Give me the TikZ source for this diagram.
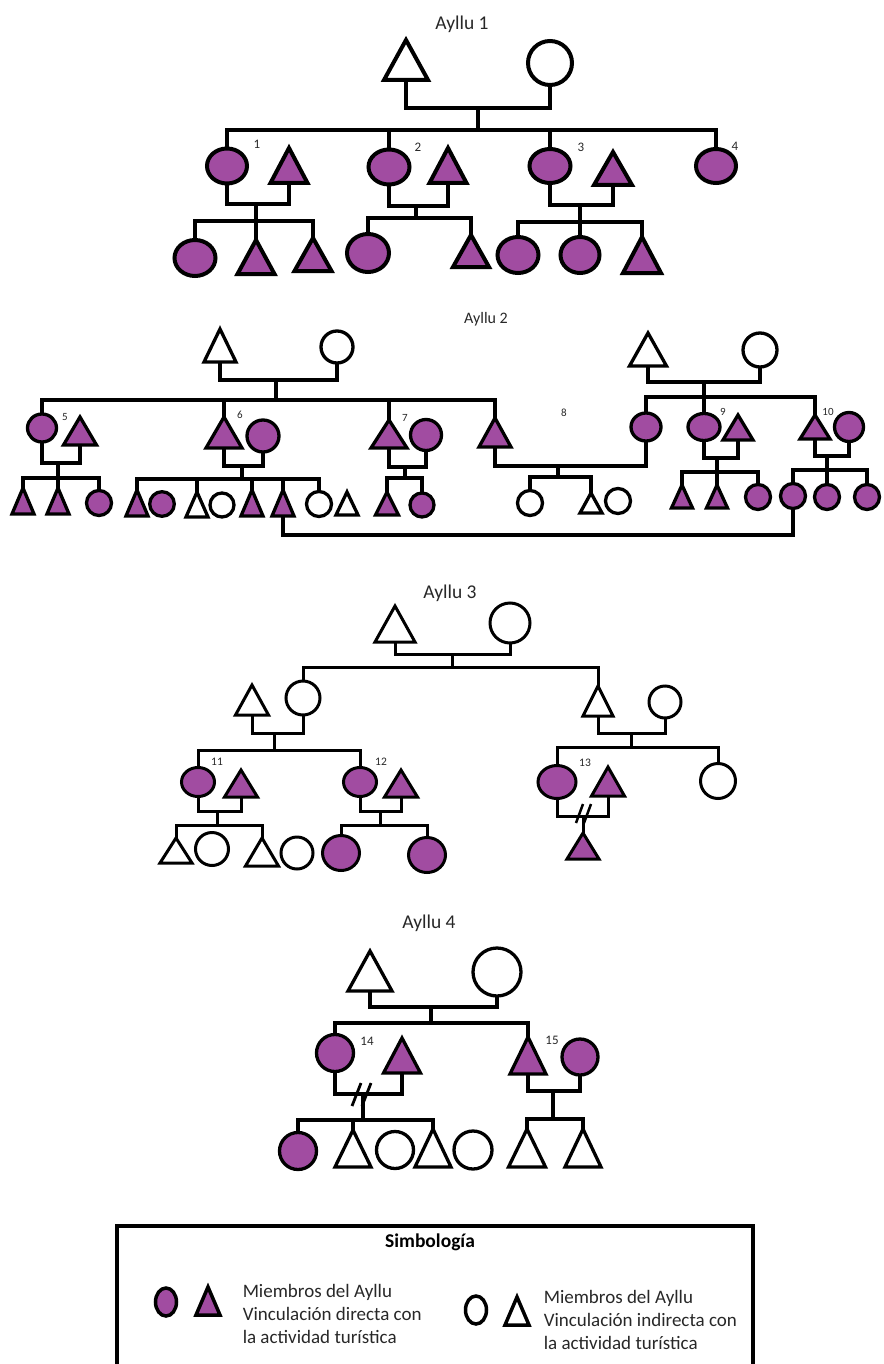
\documentclass[tikz,border=0pt]{standalone}
\usepackage{fontspec}
\setmainfont{Carlito}
\usetikzlibrary{shapes.geometric}
\definecolor{pur}{RGB}{161,76,161}
\definecolor{txt}{RGB}{40,40,40}
\tikzset{
  pc/.style={ellipse, draw=black, fill=pur, inner sep=0pt, outer sep=0pt},
  wc/.style={ellipse, draw=black, fill=white, inner sep=0pt, outer sep=0pt},
  ttl/.style={font=\fontsize{19.5}{22}\selectfont, text=txt, inner sep=0pt},
  numA/.style={font=\fontsize{13}{15}\selectfont, text=txt, inner sep=0pt},
  numB/.style={font=\fontsize{11}{12}\selectfont, text=txt, inner sep=0pt},
  numC/.style={font=\fontsize{11.5}{13}\selectfont, text=txt, inner sep=0pt},
  legtxt/.style={font=\fontsize{19}{23}\selectfont, text=txt, align=left, inner sep=0pt, anchor=west},
}
\newcommand\Ptri[6]{% name, fill, cx, apex y, base y, width
  \filldraw[fill=#2, draw=black, line join=miter] ({#3-#6/2},#5) -- (#3,#4) -- ({#3+#6/2},#5) -- cycle;
  \coordinate (#1) at (#3,#5);
  \coordinate (#1t) at (#3,#4);}
\newcommand\Pcirc[6]{% name, style, cx, cy, rx, ry
  \node[#2, minimum width={2*#5}, minimum height={2*#6}] (#1) at (#3,#4) {};}
\begin{document}
\begin{tikzpicture}[x=1pt,y=-1pt]
\useasboundingbox (0,0) rectangle (883,1364);
\fill[white] (0,0) rectangle (883,1364);

% ================= AYLLU 1 =================
\begin{scope}[line width=4pt]
\node[ttl] (T1) at (462,24) {Ayllu 1};
\Ptri{A1f}{white}{406}{40}{80}{44}
\Pcirc{A1m}{wc}{550}{63}{22}{22}
\coordinate (A1cm) at (478,108);
\coordinate (A1sm) at (478,130);
\Pcirc{A1c1}{pc}{227}{166}{20}{17.5}
\Ptri{A1t1}{pur}{289}{148}{183}{37}
\Pcirc{A1c2}{pc}{389}{167}{20.5}{17.5}
\Ptri{A1t2}{pur}{448}{148}{183}{37}
\Pcirc{A1c3}{pc}{550}{166}{20.5}{17}
\Ptri{A1t3}{pur}{613}{152}{185}{38}
\Pcirc{A1c4}{pc}{716}{166}{20}{17}
\node[numA] (L1) at (257,144) {1};
\node[numA] (L2) at (418,147) {2};
\node[numA] (L3) at (581,147) {3};
\node[numA] (L4) at (735,146) {4};
\draw (A1f) |- (A1cm) -| (A1m.south);
\draw (A1cm) -- (A1sm);
\draw (A1c1.north) |- (A1sm) -| (A1c4.north);
\draw (A1c2.north) -- (A1c2.north |- A1sm);
\draw (A1c3.north) -- (A1c3.north |- A1sm);
% couple 1
\coordinate (A1m1) at (256,204);
\coordinate (A1k1) at (256,221);
\Pcirc{A1g1}{pc}{195}{258}{20.5}{18}
\Ptri{A1g2}{pur}{256}{240}{274}{37}
\Ptri{A1g3}{pur}{313}{238}{271}{37}
\draw (A1c1.south) |- (A1m1) -| (A1t1);
\draw (A1m1) -- (A1k1);
\draw (A1g1.north) |- (A1k1) -| (A1g3t);
\draw (A1k1) -- (A1g2t);
% couple 2
\coordinate (A1m2) at (416,206);
\coordinate (A1k2) at (416,218);
\Pcirc{A1g4}{pc}{368}{253}{21}{19}
\Ptri{A1g5}{pur}{471}{235}{267}{36}
\draw (A1c2.south) |- (A1m2) -| (A1t2);
\draw (A1m2) -- (A1k2);
\draw (A1g4.north) |- (A1k2) -| (A1g5t);
% couple 3
\coordinate (A1m3) at (580,205);
\coordinate (A1k3) at (580,222);
\Pcirc{A1g6}{pc}{518}{255}{20.5}{18}
\Pcirc{A1g7}{pc}{580}{255}{19.5}{18}
\Ptri{A1g8}{pur}{642}{237}{273}{38}
\draw (A1c3.south) |- (A1m3) -| (A1t3);
\draw (A1m3) -- (A1k3);
\draw (A1g6.north) |- (A1k3) -| (A1g8t);
\draw (A1k3) -- (A1g7.north);
\end{scope}

% ================= AYLLU 2 =================
\begin{scope}[line width=3.3pt]
\node[ttl, font=\fontsize{16}{19}\selectfont] (T2) at (486,319) {Ayllu 2};
\Ptri{A2f}{white}{220}{329}{362}{32}
\Pcirc{A2m}{wc}{337}{347}{16}{16}
\coordinate (A2cm) at (276,380);
\coordinate (A2sm) at (276,400);
\Pcirc{A2c5}{pc}{42}{428}{14.5}{14}
\Ptri{A2t5}{pur}{80}{417}{445}{33}
\Ptri{A2t6}{pur}{224}{417}{448}{36}
\Pcirc{A2c6}{pc}{263}{436}{16}{16}
\Ptri{A2t7}{pur}{389}{420}{448}{36}
\Pcirc{A2c7}{pc}{426}{435}{15.5}{15.5}
\Ptri{A2t8}{pur}{495}{418}{447}{32}
\Pcirc{A2c8}{pc}{646}{427}{15}{14}
\node[numB] (L5) at (65,417) {5};
\node[numB] (L6) at (240,415) {6};
\node[numB] (L7) at (405,418) {7};
\node[numB] (L8) at (564,413) {8};
\draw (A2f) |- (A2cm) -| (A2m.south);
\draw (A2cm) -- (A2sm);
\draw (A2c5.north) |- (A2sm) -| (A2t8t);
\draw (A2t6t) -- (A2t6t |- A2sm);
\draw (A2t7t) -- (A2t7t |- A2sm);
% couple 5
\coordinate (A2m5) at (58,463);
\coordinate (A2k5) at (58,478);
\Ptri{A2g1}{pur}{23}{488}{514}{22}
\Ptri{A2g2}{pur}{58}{488}{514}{22}
\Pcirc{A2g3}{pc}{99}{503}{12.5}{12.5}
\draw (A2c5.south) |- (A2m5) -| (A2t5);
\draw (A2m5) -- (A2k5);
\draw (A2g1t) |- (A2k5) -| (A2g3.north);
\draw (A2k5) -- (A2g2t);
% couple 6
\coordinate (A2m6) at (242,466);
\coordinate (A2k6) at (242,479);
\Ptri{A2h1}{pur}{137}{490}{516}{22}
\Pcirc{A2h2}{pc}{162}{504}{12.3}{12.3}
\Ptri{A2h3}{white}{197}{492}{517}{22}
\Pcirc{A2h4}{wc}{222}{505}{12}{12}
\Ptri{A2h5}{pur}{252}{490}{516}{22}
\Ptri{A2h6}{pur}{283}{490}{516}{22}
\Pcirc{A2h7}{wc}{319}{504}{12.5}{12.5}
\Ptri{A2h8}{white}{347}{492}{515}{22}
\draw (A2t6) |- (A2m6) -| (A2c6.south);
\draw (A2m6) -- (A2k6);
\draw (A2h1t) |- (A2k6) -| (A2h7.north);
\draw (A2h3t) -- (A2h3t |- A2k6);
\draw (A2h5t) -- (A2h5t |- A2k6);
\draw (A2h6t) -- (A2h6t |- A2k6);
% couple 7
\coordinate (A2m7) at (405,467);
\coordinate (A2k7) at (405,478);
\Ptri{A2i1}{pur}{387}{492}{515}{23}
\Pcirc{A2i2}{pc}{422}{505}{12}{12}
\draw (A2t7) |- (A2m7) -| (A2c7.south);
\draw (A2m7) -- (A2k7);
\draw (A2i1t) |- (A2k7) -| (A2i2.north);
% couple 8
\coordinate (A2m8) at (558,466);
\coordinate (A2k8) at (558,477);
\Pcirc{A2e1}{wc}{530}{503}{12.5}{12.5}
\Ptri{A2e2}{white}{591}{493}{513}{22}
\Pcirc{A2e3}{wc}{618}{501}{12.5}{12.5}
\draw (A2t8) |- (A2m8) -| (A2c8.south);
\draw (A2m8) -- (A2k8);
\draw (A2e1.north) |- (A2k8) -| (A2e2t);
% right family
\Ptri{A2rf}{white}{648}{333}{366}{37}
\Pcirc{A2rm}{wc}{760}{350}{17}{17}
\coordinate (A2rcm) at (704,382);
\coordinate (A2rsm) at (704,397);
\Pcirc{A2c9}{pc}{704}{427}{16}{13.5}
\Ptri{A2t9}{pur}{738}{415}{440}{30}
\Ptri{A2t10}{pur}{815}{415}{439}{30}
\Pcirc{A2c10}{pc}{849}{427}{14.5}{14.5}
\node[numB] (L9) at (723,412) {9};
\node[numB] (L10) at (828,412) {10};
\draw (A2rf) |- (A2rcm) -| (A2rm.south);
\draw (A2rcm) -- (A2c9.north);
\draw (A2c8.north) |- (A2rsm) -| (A2t10t);
% couple 9
\coordinate (A2m9) at (717,458);
\coordinate (A2k9) at (717,472);
\Ptri{A2n1}{pur}{682}{485}{508}{21}
\Ptri{A2n2}{pur}{717}{485}{508}{21}
\Pcirc{A2n3}{pc}{758}{497}{12.5}{12.5}
\draw (A2c9.south) |- (A2m9) -| (A2t9);
\draw (A2m9) -- (A2k9);
\draw (A2n1t) |- (A2k9) -| (A2n3.north);
\draw (A2k9) -- (A2n2t);
% couple 10
\coordinate (A2m10) at (827,456);
\coordinate (A2k10) at (827,470);
\Pcirc{A2j1}{pc}{793}{496}{12.5}{12.5}
\Pcirc{A2j2}{pc}{827}{497}{12.5}{12.5}
\Pcirc{A2j3}{pc}{867}{497}{12.5}{12.5}
\draw (A2t10) |- (A2m10) -| (A2c10.south);
\draw (A2m10) -- (A2k10);
\draw (A2j1.north) |- (A2k10) -| (A2j3.north);
\draw (A2k10) -- (A2j2.north);
% marriage link across families
\coordinate (A2long) at (540,535);
\draw (A2h6) |- (A2long) -| (A2j1.south);
\end{scope}

% ================= AYLLU 3 =================
\begin{scope}[line width=3pt]
\node[ttl] (T3) at (450,593) {Ayllu 3};
\Ptri{A3f}{white}{395}{606}{642}{40}
\Pcirc{A3m}{wc}{510}{623}{20}{20}
\coordinate (A3cm) at (452,654);
\coordinate (A3sm) at (452,667);
\Ptri{A3lf}{white}{252}{685}{715}{33}
\Pcirc{A3lm}{wc}{303}{698}{17}{17}
\Ptri{A3rf}{white}{598}{686}{716}{30}
\Pcirc{A3rm}{wc}{665}{702}{16}{16}
\draw (A3f) |- (A3cm) -| (A3m.south);
\draw (A3cm) -- (A3sm);
\draw (A3lm.north) |- (A3sm) -| (A3rft);
% left couple
\coordinate (A3lcm) at (274,733);
\coordinate (A3lsm) at (274,750);
\Pcirc{A3c11}{pc}{198}{782}{16.5}{14.5}
\Ptri{A3t11}{pur}{241}{770}{797}{33}
\Pcirc{A3c12}{pc}{360}{782}{16.5}{14.5}
\Ptri{A3t12}{pur}{401}{770}{797}{33}
\node[numC] (L11) at (217,762) {11};
\node[numC] (L12) at (381,762) {12};
\draw (A3lf) |- (A3lcm) -| (A3lm.south);
\draw (A3lcm) -- (A3lsm);
\draw (A3c11.north) |- (A3lsm) -| (A3c12.north);
% couple 11
\coordinate (A3m11) at (217,811);
\coordinate (A3k11) at (217,825);
\Ptri{A3a1}{white}{176}{838}{863}{32}
\Pcirc{A3a2}{wc}{212}{849}{16.5}{16.5}
\Ptri{A3a3}{white}{262}{838}{866}{33}
\Pcirc{A3a4}{wc}{297}{853}{16}{16}
\draw (A3c11.south) |- (A3m11) -| (A3t11);
\draw (A3m11) -- (A3k11);
\draw (A3a1t) |- (A3k11) -| (A3a3t);
% couple 12
\coordinate (A3m12) at (380,811);
\coordinate (A3k12) at (380,825);
\Pcirc{A3b1}{pc}{341}{853}{18.5}{17.5}
\Pcirc{A3b2}{pc}{427}{855}{18.5}{17.5}
\draw (A3c12.south) |- (A3m12) -| (A3t12);
\draw (A3m12) -- (A3k12);
\draw (A3b1.north) |- (A3k12) -| (A3b2.north);
% right couple
\coordinate (A3rcm) at (631,733);
\coordinate (A3rsm) at (631,747);
\Pcirc{A3c13}{pc}{557}{782}{19}{16.5}
\Ptri{A3t13}{pur}{608}{767}{796}{33}
\Pcirc{A3w}{wc}{718}{781}{17.5}{17.5}
\node[numC] (L13) at (585,763) {13};
\draw (A3rf) |- (A3rcm) -| (A3rm.south);
\draw (A3rcm) -- (A3rsm);
\draw (A3c13.north) |- (A3rsm) -| (A3w.north);
% couple 13 (separated)
\coordinate (A3m13) at (583,816);
\Ptri{A3ch}{pur}{583}{833}{859}{32}
\draw (A3c13.south) |- (A3m13) -| (A3t13);
\draw (A3m13) -- (A3cht);
\draw[line width=2.5pt] (576,823) -- (583,804);
\draw[line width=2.5pt] (584,823) -- (591,804);
\end{scope}

% ================= AYLLU 4 =================
\begin{scope}[line width=3.3pt]
\node[ttl] (T4) at (429,923) {Ayllu 4};
\Ptri{A4f}{white}{370}{951}{991}{44}
\Pcirc{A4m}{wc}{497}{972}{24}{24}
\coordinate (A4cm) at (431,1007);
\coordinate (A4sm) at (431,1023);
\Pcirc{A4c14}{pc}{335}{1053}{18.5}{18.5}
\Ptri{A4t14}{pur}{402}{1038}{1073}{37}
\Ptri{A4t15}{pur}{528}{1037}{1074}{36}
\Pcirc{A4c15}{pc}{580}{1057}{18}{18}
\node[numA] (L14) at (367,1041) {14};
\node[numA] (L15) at (552,1040) {15};
\draw (A4f) |- (A4cm) -| (A4m.south);
\draw (A4cm) -- (A4sm);
\draw (A4c14.north) |- (A4sm) -| (A4t15t);
% couple 14 (separated)
\coordinate (A4m14) at (363,1094);
\coordinate (A4k14) at (363,1120);
\Pcirc{A4a1}{pc}{298}{1151}{18.5}{18.5}
\Ptri{A4a2}{white}{353}{1130}{1167}{36}
\Pcirc{A4a3}{wc}{395}{1150}{18.5}{18.5}
\Ptri{A4a4}{white}{433}{1129}{1167}{36}
\Pcirc{A4a5}{wc}{473}{1150}{19}{19}
\draw (A4c14.south) |- (A4m14) -| (A4t14);
\draw (A4m14) -- (A4k14);
\draw (A4a1.north) |- (A4k14) -| (A4a4t);
\draw (A4a2t) -- (A4a2t |- A4k14);
\draw[line width=2.8pt] (352,1106) -- (361,1083);
\draw[line width=2.8pt] (362,1106) -- (371,1083);
% couple 15
\coordinate (A4m15) at (553,1091);
\coordinate (A4k15) at (553,1119);
\Ptri{A4b1}{white}{527}{1129}{1167}{37}
\Ptri{A4b2}{white}{583}{1129}{1167}{36}
\draw (A4t15) |- (A4m15) -| (A4c15.south);
\draw (A4m15) -- (A4k15);
\draw (A4b1t) |- (A4k15) -| (A4b2t);
\end{scope}

% ================= LEGEND =================
\begin{scope}[line width=3.5pt]
\draw (117,1366) -- (117,1226) -- (753,1226) -- (753,1366);
\node[font=\fontsize{19.5}{22}\selectfont\bfseries, inner sep=0pt] (LT) at (430,1242) {Simbología};
\Pcirc{LPc}{pc}{166}{1302}{10.5}{14}
\Ptri{LPt}{pur}{208}{1287}{1315}{24}
\node[legtxt] (LPx) at (241,1314) {Miembros del Ayllu\\Vinculación directa con\\la actividad turística};
\Pcirc{LWc}{wc}{476}{1310}{10.5}{14}
\Ptri{LWt}{white}{517}{1297}{1325}{24}
\node[legtxt] (LWx) at (542,1320) {Miembros del Ayllu\\Vinculación indirecta con\\la actividad turística};
\end{scope}
\end{tikzpicture}
\end{document}
